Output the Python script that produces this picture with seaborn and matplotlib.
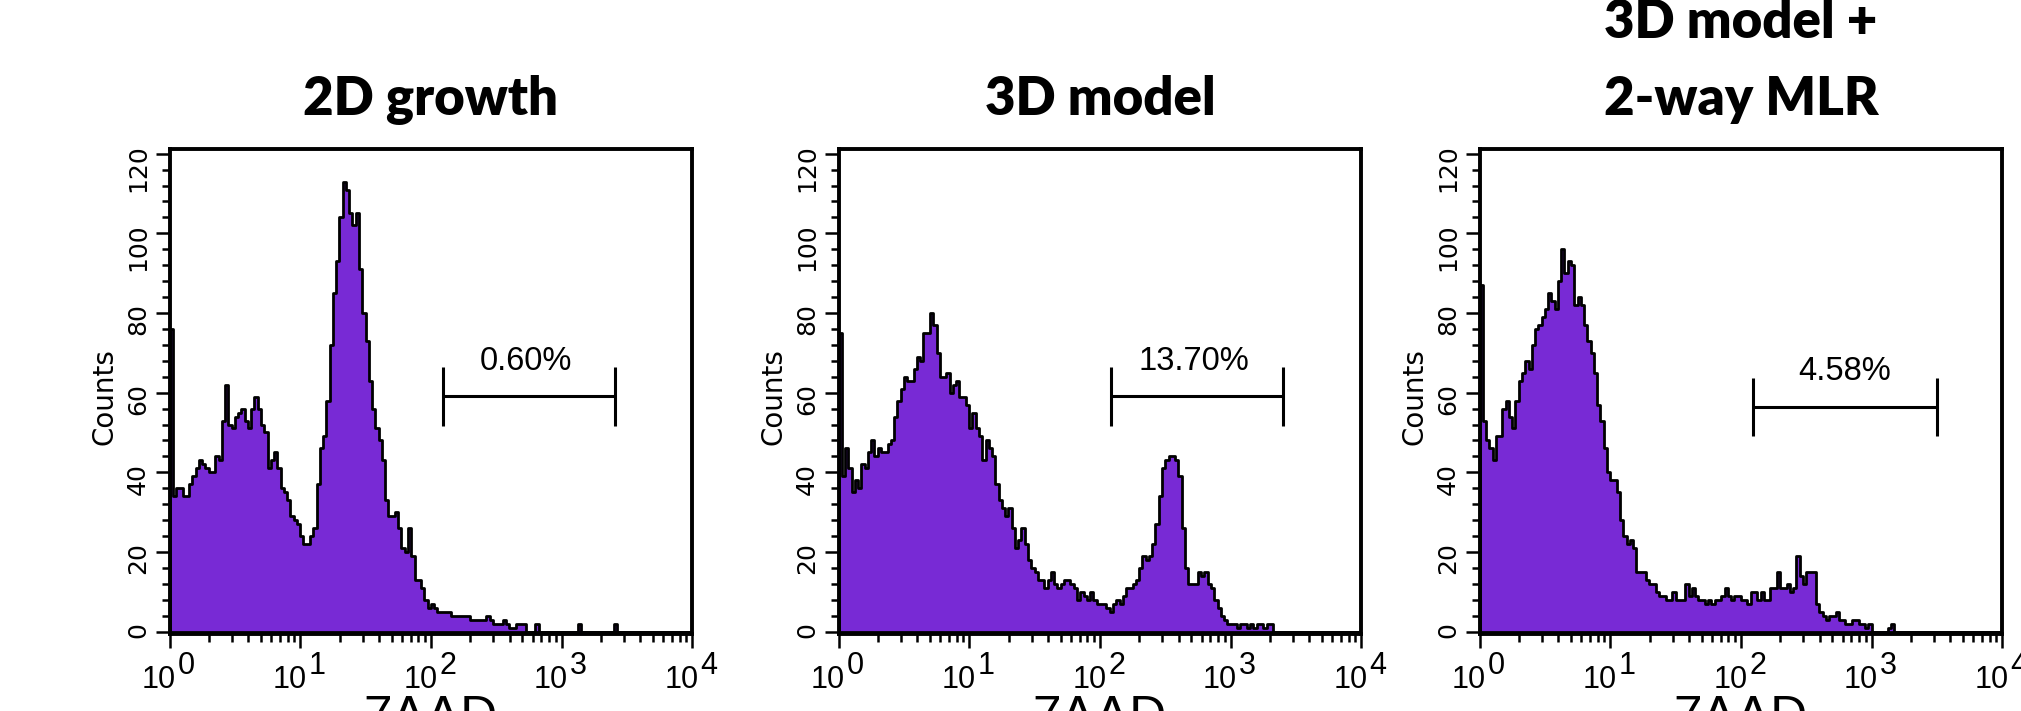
import numpy as np
import matplotlib
matplotlib.use("Agg")
import matplotlib.pyplot as plt
import seaborn as sns
from matplotlib.ticker import MultipleLocator, LogLocator, NullFormatter

# --------------------------
# DATA (counts, 40 bins per decade, 10^0 .. 10^4)
# --------------------------
BINS_PER_DECADE = 40
N_BINS = 160

COUNTS_2D = [
    76, 34, 36, 36, 34, 34, 37, 39, 41, 43,
    42, 41, 40, 40, 44, 43, 53, 62, 52, 51,
    54, 55, 56, 53, 51, 56, 59, 56, 52, 50,
    41, 43, 45, 41, 36, 35, 33, 29, 28, 27,
    24, 22, 22, 24, 26, 37, 46, 49, 58, 72,
    85, 93, 104, 113, 111, 105, 102, 105, 91, 80,
    73, 63, 56, 51, 48, 43, 33, 29, 29, 30,
    26, 21, 20, 26, 19, 13, 13, 11, 8, 6,
    7, 6, 5, 5, 5, 5, 4, 4, 4, 4,
    4, 4, 3, 3, 3, 3, 3, 4, 3, 2,
    2, 2, 3, 2, 1, 1, 2, 2, 2, 0,
    0, 0, 2, 0, 0, 0, 0, 0, 0, 0,
    0, 0, 0, 0, 0, 2, 0, 0, 0, 0,
    0, 0, 0, 0, 0, 0, 2, 0, 0, 0,
    0, 0, 0, 0, 0, 0, 0, 0, 0, 0,
    0, 0, 0, 0, 0, 0, 0, 0, 0, 0,
]

COUNTS_3D = [
    75, 39, 46, 41, 35, 38, 36, 42, 41, 45,
    48, 44, 46, 45, 45, 47, 48, 54, 58, 61,
    64, 63, 63, 66, 69, 68, 75, 75, 80, 77,
    70, 64, 64, 65, 60, 62, 63, 59, 59, 57,
    51, 55, 51, 49, 43, 48, 46, 44, 37, 33,
    31, 29, 31, 26, 21, 23, 26, 22, 18, 16,
    15, 13, 13, 11, 13, 15, 12, 11, 12, 13,
    13, 12, 11, 8, 10, 9, 8, 10, 8, 7,
    7, 7, 6, 5, 7, 8, 7, 9, 11, 11,
    12, 13, 16, 19, 18, 19, 22, 27, 34, 41,
    43, 44, 44, 43, 39, 26, 16, 12, 12, 12,
    15, 14, 15, 12, 11, 8, 6, 4, 3, 2,
    2, 2, 1, 2, 2, 1, 2, 1, 2, 2,
    1, 2, 2, 0, 0, 0, 0, 0, 0, 0,
    0, 0, 0, 0, 0, 0, 0, 0, 0, 0,
    0, 0, 0, 0, 0, 0, 0, 0, 0, 0,
]

COUNTS_MLR = [
    87, 53, 48, 46, 43, 49, 49, 56, 58, 54,
    51, 58, 63, 65, 68, 66, 72, 76, 77, 79,
    81, 85, 83, 81, 88, 96, 90, 93, 92, 82,
    84, 82, 77, 73, 70, 65, 57, 53, 46, 40,
    38, 38, 35, 28, 24, 22, 23, 21, 15, 15,
    15, 13, 12, 12, 10, 9, 9, 8, 8, 10,
    8, 8, 8, 12, 9, 11, 9, 8, 8, 7,
    8, 7, 8, 8, 9, 11, 9, 8, 9, 9,
    8, 8, 7, 10, 10, 8, 10, 8, 8, 11,
    11, 15, 11, 11, 12, 10, 11, 19, 14, 12,
    15, 15, 15, 7, 5, 4, 3, 4, 4, 5,
    3, 3, 2, 2, 3, 3, 2, 2, 1, 2,
    0, 0, 0, 0, 0, 1, 2, 0, 0, 0,
    0, 0, 0, 0, 0, 0, 0, 0, 0, 0,
    0, 0, 0, 0, 0, 0, 0, 0, 0, 0,
    0, 0, 0, 0, 0, 0, 0, 0, 0, 0,
]

TITLES = ["2D growth", "3D model", "3D model +\n2-way MLR"]
GATE_LABELS = ["0.60%", "13.70%", "4.58%"]
GATE_LO = [123, 121, 123]
GATE_HI = [2560, 2500, 3190]
GATE_Y = [59.1, 59.1, 56.4]
GATE_TEXT_X = [533, 527, 627]
GATE_TEXT_Y = [65.8, 65.8, 63.1]
DECADES = [0, 1, 2, 3, 4]

# --------------------------
# LAYOUT / STYLE
# --------------------------
W, H = 2021, 711
AX_LEFT_PX = [169.5, 838.5, 1479.5]
AX_W_PX = 522.8
AX_TOP_PX = 149.3
AX_BOT_PX = 634.0
PURPLE = "#782ad5"

sns.set_style("ticks")
plt.rcParams["font.family"] = ["DejaVu Sans"]
plt.rcParams.update({
    "text.color": "black",
    "axes.labelcolor": "black",
    "xtick.color": "black",
    "ytick.color": "black",
})

fig = plt.figure(figsize=(W / 100, H / 100), dpi=100)

bin_centers = 10 ** ((np.arange(N_BINS) + 0.5) / BINS_PER_DECADE)

for k, counts in enumerate([COUNTS_2D, COUNTS_3D, COUNTS_MLR]):
    ax = fig.add_axes([AX_LEFT_PX[k] / W, (H - AX_BOT_PX) / H,
                       AX_W_PX / W, (AX_BOT_PX - AX_TOP_PX) / H])
    sns.histplot(x=bin_centers, weights=counts, bins=N_BINS, binrange=(0, 4),
                 log_scale=True, element="step", fill=True, color=PURPLE,
                 edgecolor="black", linewidth=2.0, alpha=1, ax=ax)
    ax.set_xlim(1, 1e4)
    ax.set_ylim(-0.6, 121.1)

    # axes frame
    for sp in ax.spines.values():
        sp.set_visible(True)
        sp.set_linewidth(2.8)
        sp.set_color("black")

    # ticks
    ax.xaxis.set_major_locator(LogLocator(base=10, numticks=10))
    ax.xaxis.set_minor_locator(LogLocator(base=10, subs=np.arange(2, 10), numticks=40))
    ax.xaxis.set_major_formatter(NullFormatter())
    ax.xaxis.set_minor_formatter(NullFormatter())
    ax.yaxis.set_major_locator(MultipleLocator(20))
    ax.yaxis.set_minor_locator(MultipleLocator(4))
    ax.tick_params(which="major", direction="out", length=10, width=1.8, color="black")
    ax.tick_params(which="minor", direction="out", length=6, width=1.8, color="black")
    ax.tick_params(axis="y", which="major", labelsize=18, labelrotation=90, pad=4)

    # x tick labels "10" + full size raised exponent
    for d in DECADES:
        ax.annotate("10", xy=(10 ** d, 0), xycoords=("data", "axes fraction"),
                    xytext=(4.6, -39), textcoords="offset points",
                    ha="right", va="baseline", fontsize=22,
                    family="Liberation Sans", annotation_clip=False)
        ax.annotate(str(d), xy=(10 ** d, 0), xycoords=("data", "axes fraction"),
                    xytext=(6, -28.5), textcoords="offset points",
                    ha="left", va="baseline", fontsize=22,
                    family="Liberation Sans", annotation_clip=False)

    # x label (cut by the bottom edge, like the source figure)
    ax.set_xlabel("")
    ax.annotate("7AAD", xy=(0.5, 0), xycoords="axes fraction",
                xytext=(0, -70.6), textcoords="offset points",
                ha="center", va="baseline", fontsize=37,
                family="Liberation Sans", annotation_clip=False)

    ax.set_ylabel("Counts", fontsize=20)
    ax.yaxis.set_label_coords(-0.097, 0.489)

    ax.set_title(TITLES[k], fontsize=38, fontweight="heavy", family="Lato",
                 color="black", pad=24.5, linespacing=1.7)

    # gate marker
    lo, hi, gy = GATE_LO[k], GATE_HI[k], GATE_Y[k]
    ax.plot([lo, hi], [gy, gy], color="black", lw=2.2, solid_capstyle="butt")
    ax.vlines([lo, hi], gy - 7.4, gy + 7.4, color="black", lw=2.2)
    ax.text(GATE_TEXT_X[k], GATE_TEXT_Y[k], GATE_LABELS[k], ha="center",
            va="baseline", fontsize=23.5, family="Liberation Sans")

fig.savefig("out.png", dpi=100)
